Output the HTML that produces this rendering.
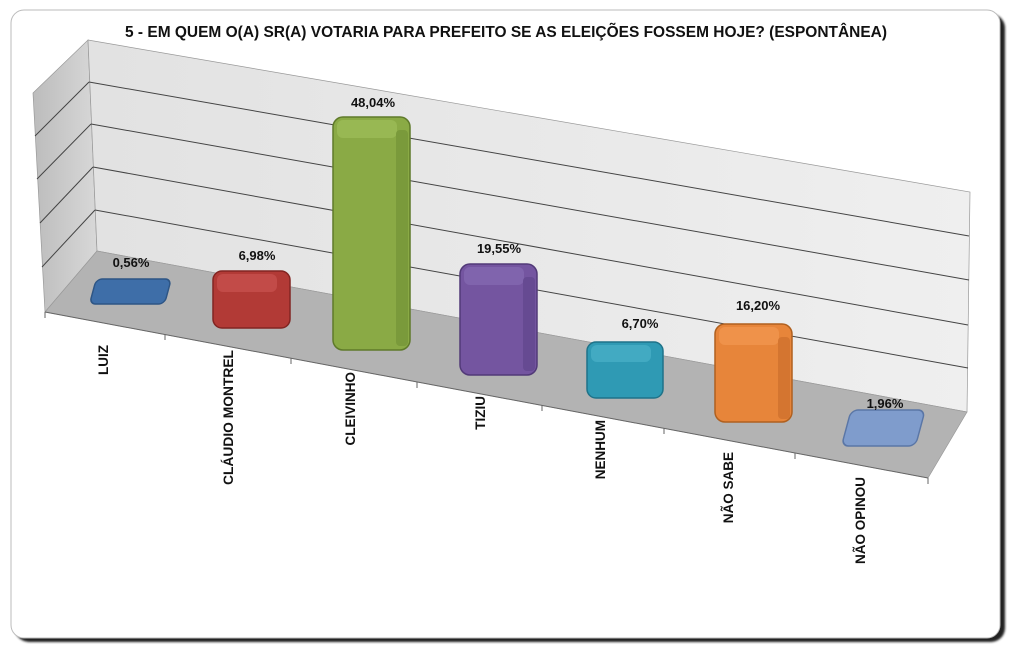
<!DOCTYPE html>
<html><head><meta charset="utf-8"><style>
body{margin:0;background:#fff;width:1024px;height:655px;overflow:hidden;font-family:"Liberation Sans",sans-serif}
</style></head><body>
<svg width="1024" height="655" viewBox="0 0 1024 655" xmlns="http://www.w3.org/2000/svg" font-family="Liberation Sans, sans-serif">
<defs>
<linearGradient id="wall" x1="0" y1="0" x2="1" y2="0"><stop offset="0" stop-color="#e2e2e2"/><stop offset="1" stop-color="#efefef"/></linearGradient>
<linearGradient id="side" x1="0" y1="0" x2="1" y2="0"><stop offset="0" stop-color="#bcbcbc"/><stop offset="1" stop-color="#d8d8d8"/></linearGradient>
<filter id="sh"><feGaussianBlur stdDeviation="1"/></filter>
</defs>
<rect x="15" y="14" width="990" height="628" rx="14" fill="#222" filter="url(#sh)"/>
<rect x="11" y="10" width="989" height="628" rx="13" fill="#fff" stroke="#bbb" stroke-width="1"/>
<text x="506" y="37" text-anchor="middle" font-size="15.5" font-weight="bold" fill="#111" textLength="762" lengthAdjust="spacingAndGlyphs">5 -  EM QUEM O(A) SR(A) VOTARIA PARA PREFEITO SE AS ELEIÇÕES FOSSEM HOJE? (ESPONTÂNEA)</text>
<polygon points="33,93 88,40 97,251 45,312" fill="url(#side)" stroke="#999" stroke-width="0.7"/>
<polygon points="88,40 970,192 967,412 97,251" fill="url(#wall)" stroke="#999" stroke-width="0.7"/>
<polygon points="45,312 97,251 967,412 928,478" fill="#b3b3b3" stroke="#999" stroke-width="0.7"/>
<g stroke="#444" stroke-width="1" fill="none">
<line x1="89" y1="82" x2="969" y2="236"/><line x1="91" y1="124" x2="969" y2="280"/>
<line x1="93" y1="167" x2="968" y2="325"/><line x1="95" y1="210" x2="968" y2="368"/>
<line x1="35" y1="136" x2="89" y2="82"/><line x1="37" y1="179" x2="91" y2="124"/>
<line x1="40" y1="223" x2="93" y2="167"/><line x1="42" y1="267" x2="95" y2="210"/>
</g>
<g stroke="#666" stroke-width="1">
<line x1="45" y1="312" x2="928" y2="478"/>
<line x1="45" y1="312" x2="45" y2="318"/><line x1="165" y1="334" x2="165" y2="340"/>
<line x1="291" y1="358" x2="291" y2="364"/><line x1="417" y1="382" x2="417" y2="388"/>
<line x1="542" y1="405" x2="542" y2="411"/><line x1="664" y1="428" x2="664" y2="434"/>
<line x1="795" y1="453" x2="795" y2="459"/><line x1="928" y1="478" x2="928" y2="484"/>
</g>
<g stroke-width="1.5">
<rect x="93" y="279" width="75" height="25" rx="6" fill="#3e6ea8" stroke="#2d5585" transform="skewX(-15) translate(78,0)"/>
<rect x="213" y="271" width="77" height="57" rx="9" fill="#b23a36" stroke="#822522"/>
<rect x="217" y="274" width="60" height="18" rx="6" fill="#c24b48"/>
<rect x="333" y="117" width="77" height="233" rx="10" fill="#8aaa45" stroke="#5f7a2a"/>
<rect x="337" y="120" width="60" height="18" rx="6" fill="#98b853"/>
<rect x="396" y="130" width="12" height="216" rx="4" fill="#7a9a3b"/>
<rect x="460" y="264" width="77" height="111" rx="10" fill="#7455a0" stroke="#523a78"/>
<rect x="464" y="267" width="60" height="18" rx="6" fill="#8064ad"/>
<rect x="523" y="277" width="12" height="94" rx="4" fill="#664a92"/>
<rect x="587" y="342" width="76" height="56" rx="9" fill="#2f9ab4" stroke="#1f7389"/>
<rect x="591" y="345" width="60" height="17" rx="6" fill="#42aac2"/>
<rect x="715" y="324" width="77" height="98" rx="10" fill="#e7853a" stroke="#b0601f"/>
<rect x="719" y="327" width="60" height="18" rx="6" fill="#ef924a"/>
<rect x="778" y="337" width="12" height="82" rx="4" fill="#d47530"/>
<rect x="846" y="410" width="74" height="36" rx="7" fill="#7f9ccc" stroke="#5a76a6" transform="skewX(-15) translate(115,0)"/>
</g>
<g font-size="13" font-weight="bold" fill="#111" text-anchor="middle">
<text x="131" y="267">0,56%</text><text x="257" y="260">6,98%</text>
<text x="373" y="107">48,04%</text><text x="499" y="253">19,55%</text>
<text x="640" y="328">6,70%</text><text x="758" y="310">16,20%</text>
<text x="885" y="408">1,96%</text>
</g>
<g font-size="13.5" font-weight="bold" fill="#111" text-anchor="end">
<text transform="translate(108,345) rotate(-90)">LUIZ</text>
<text transform="translate(233,350) rotate(-90)" textLength="135" lengthAdjust="spacingAndGlyphs">CLÁUDIO MONTREL</text>
<text transform="translate(355,372) rotate(-90)">CLEIVINHO</text>
<text transform="translate(485,396) rotate(-90)">TIZIU</text>
<text transform="translate(605,420) rotate(-90)">NENHUM</text>
<text transform="translate(733,452) rotate(-90)">NÃO SABE</text>
<text transform="translate(865,477) rotate(-90)">NÃO OPINOU</text>
</g>
</svg>
</body></html>
